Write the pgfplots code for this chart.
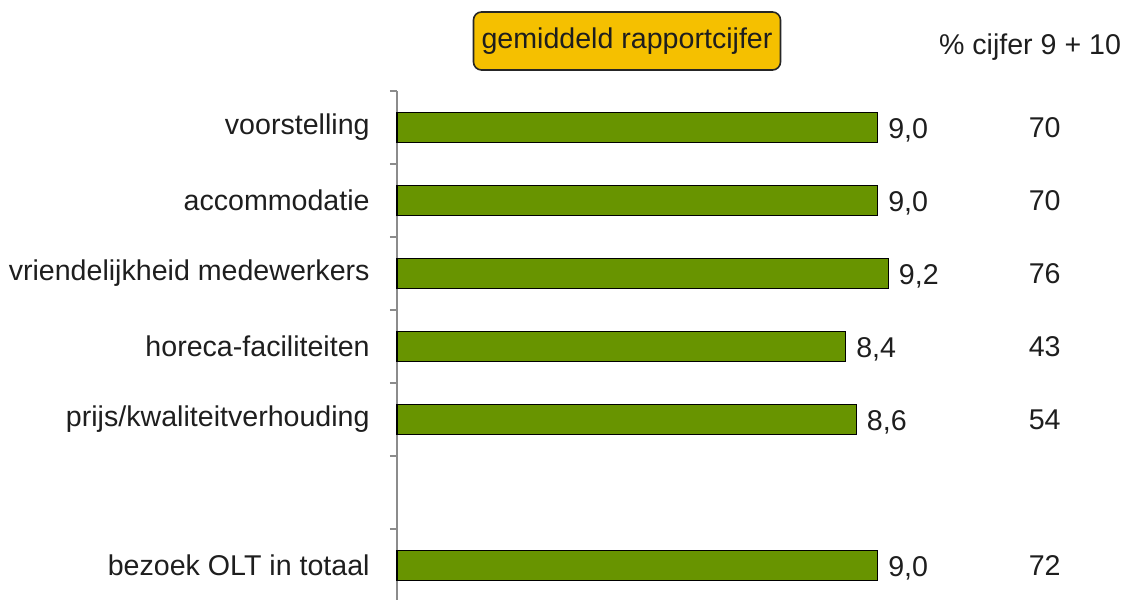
\documentclass[border=0pt]{standalone}
\usepackage{fontspec}
\setmainfont{Liberation Sans}
\usepackage{pgfplots}
\pgfplotsset{compat=1.18}
\definecolor{bargreen}{RGB}{104,148,0}
\definecolor{boxyellow}{RGB}{245,192,0}
\definecolor{txt}{RGB}{30,30,30}
\definecolor{axgray}{RGB}{140,140,140}
\newcommand\chartfont{\fontsize{14.3bp}{17bp}\selectfont}
\begin{document}
\begin{tikzpicture}[font=\chartfont, text=txt]
\path[use as bounding box] (0,0) rectangle (565.5bp,300bp);
\begin{axis}[
  scale only axis, width=373.8bp, height=255.5bp,
  at={(198.5bp,254.5bp)}, anchor=north west,
  xmin=0, xmax=14, ymin=0.5, ymax=7.5, y dir=reverse,
  axis x line=none, axis y line*=left,
  y axis line style={draw=axgray, line width=0.8pt, -},
  ytick={1,2,3,4,5,7},
  yticklabels={voorstelling, accommodatie, vriendelijkheid medewerkers, horeca-faciliteiten, prijs/kwaliteitverhouding, bezoek OLT in totaal},
  major tick length=0pt,
  minor ytick={0.5,1.5,2.5,3.5,4.5,5.5,6.5,7.5},
  minor tick length=3.5bp,
  tick align=outside,
  every tick/.style={draw=axgray, line width=0.8pt},
  yticklabel style={font=\chartfont, text=txt, inner sep=0pt, xshift=-13.5bp},
  /pgf/number format/assume math mode=true,
  clip=false,
]
\addplot[xbar, bar width=15bp, fill=bargreen, draw=black, line width=0.7pt,
  nodes near coords,
  nodes near coords style={font=\chartfont, text=txt, inner sep=0pt, xshift=5bp, yshift=-5.5bp, anchor=base west,
    /pgf/number format/fixed, /pgf/number format/fixed zerofill, /pgf/number format/precision=1, /pgf/number format/use comma}]
  coordinates {(9.0,1) (9.0,2) (9.2,3) (8.4,4) (8.6,5) (9.0,7)};
\addplot[draw=none, mark=none, nodes near coords, point meta=explicit symbolic,
  nodes near coords style={font=\chartfont, text=txt, anchor=center, inner sep=0pt}]
  coordinates {(12.13,1)[70] (12.13,2)[70] (12.13,3)[76] (12.13,4)[43] (12.13,5)[54] (12.13,7)[72]};
\end{axis}
\node[draw=black!85, fill=boxyellow, rounded corners=4bp, minimum width=153.5bp, minimum height=29bp, line width=0.8pt, inner sep=0pt] at (313.5bp,279.5bp) {gemiddeld rapportcijfer};
\node at (515bp,276.5bp) {\% cijfer 9 + 10};
\end{tikzpicture}
\end{document}
